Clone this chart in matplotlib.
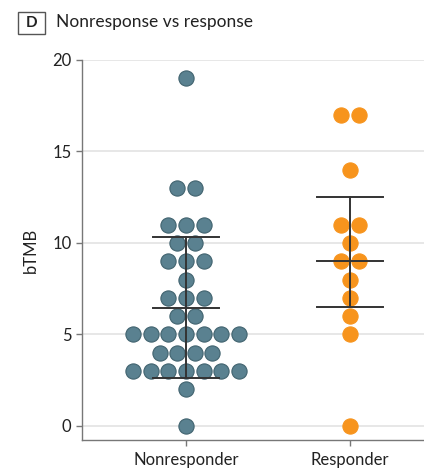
import matplotlib
matplotlib.use("Agg")
import matplotlib.pyplot as plt
from matplotlib.patches import Rectangle

categories = ["Nonresponder", "Responder"]
# (value, count) per row
nonresp_values = [19, 13, 11, 10, 9, 8, 7, 6, 5, 4, 3, 2, 0]
nonresp_counts = [1, 2, 3, 2, 3, 1, 3, 2, 7, 4, 7, 1, 1]
resp_values = [17, 14, 11, 10, 9, 8, 7, 6, 5, 0]
resp_counts = [2, 1, 2, 1, 2, 1, 1, 1, 1, 1]
# median and interquartile range
nonresp_stats = [6.45, 2.6, 10.35]
resp_stats = [9.0, 6.5, 12.5]
yticks = [0, 5, 10, 15, 20]

plt.rcParams['font.family'] = ['Lato', 'DejaVu Sans']

fig = plt.figure(figsize=(4.24, 4.68), dpi=100)
ax = fig.add_axes([82/424, 28/468, 342/424, 380/468])

step = 0.107
blue = "#5a8190"
blue_edge = "#41636f"
orange = "#f7941d"

def swarm(xc, values, counts, color, edge):
    xs, ys = [], []
    for v, c in zip(values, counts):
        for i in range(c):
            xs.append(xc + (i - (c - 1) / 2) * step)
            ys.append(v)
    ax.scatter(xs, ys, s=120, color=color, edgecolor=edge, linewidth=0.8, zorder=3)

swarm(0, nonresp_values, nonresp_counts, blue, blue_edge)
swarm(1, resp_values, resp_counts, orange, orange)

for xc, (med, lo, hi) in zip([0, 1], [nonresp_stats, resp_stats]):
    ax.plot([xc, xc], [lo, hi], color="#333333", lw=1.4, zorder=4)
    for yv in (med, lo, hi):
        ax.plot([xc - 0.2, xc + 0.2], [yv, yv], color="#333333", lw=1.4, zorder=4)

ax.set_xlim(-0.634, 1.45)
ax.set_ylim(-0.77, 20)
ax.set_yticks(yticks)
ax.set_xticks([0, 1])
ax.set_xticklabels(categories)
for yv in yticks:
    ax.axhline(yv, color="#e3e3e3", lw=1.2, zorder=1)
for s in ["top", "right"]:
    ax.spines[s].set_visible(False)
for s in ["left", "bottom"]:
    ax.spines[s].set_color("#777777")
    ax.spines[s].set_linewidth(1.0)
ax.tick_params(axis="both", colors="#777777", length=4, width=1, labelsize=12, labelcolor="#222222")
ax.tick_params(axis="x", pad=5)
ax.set_ylabel("bTMB", fontsize=12, color="#222222", labelpad=10)

fig.patches.append(Rectangle((18/424, 1 - 34/468), 27/424, 22/468, transform=fig.transFigure,
                             fill=False, edgecolor="#555555", lw=1))
fig.text(31.5/424, 1 - 23/468, "D", ha="center", va="center", fontsize=11, fontweight="bold", color="#222222")
fig.text(56/424, 1 - 22/468, "Nonresponse vs response", ha="left", va="center", fontsize=12.5, color="#222222")

fig.savefig("out.png", dpi=100)
